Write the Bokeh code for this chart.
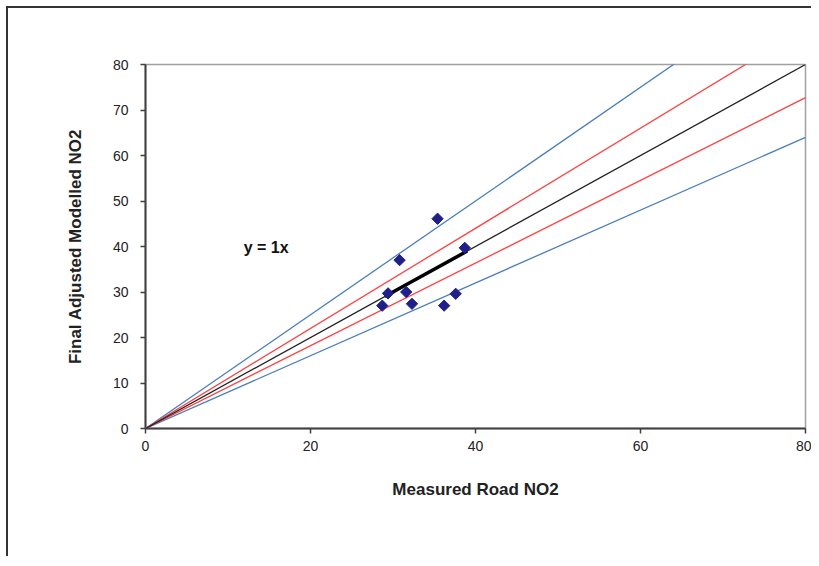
import math
from bokeh.plotting import figure
from bokeh.models import Range1d, SingleIntervalTicker, Label
from bokeh.embed import file_html
from bokeh.resources import INLINE

# Data
measured = [35.4, 30.8, 38.7, 29.4, 31.6, 28.7, 32.3, 36.2, 37.6]
modelled = [46.1, 37.0, 39.7, 29.7, 30.0, 27.0, 27.4, 27.0, 29.6]

line_x = [0, 80]
slope_1to1 = 1.0
slope_plus10 = 1.1
slope_minus10 = 1 / 1.1
slope_plus25 = 1.25
slope_minus25 = 0.8
trend_x = [29.0, 39.0]
trend_slope = 1.0

x_ticks_step = 20
y_ticks_step = 10

p = figure(width=805, height=550, output_backend="svg", toolbar_location=None,
           x_range=Range1d(0, 80), y_range=Range1d(0, 80),
           min_border_left=137, min_border_right=8, min_border_top=56,
           min_border_bottom=130)
p.styles = {"border-left": "2px solid #333333", "border-top": "2px solid #333333",
            "margin-left": "6px", "margin-top": "6px"}
p.background_fill_color = "white"
p.border_fill_color = "white"
p.outline_line_color = "#a0a0a0"
p.outline_line_width = 1.5
p.xgrid.visible = False
p.ygrid.visible = False

def seg(slope, x):
    return [v * slope for v in x]

blue = "#4a7ebb"
red = "#ff4040"
p.line(line_x, seg(slope_plus25, line_x), line_color=blue, line_width=1.3)
p.line(line_x, seg(slope_minus25, line_x), line_color=blue, line_width=1.3)
p.line(line_x, seg(slope_plus10, line_x), line_color=red, line_width=1.3)
p.line(line_x, seg(slope_minus10, line_x), line_color=red, line_width=1.3)
p.line(line_x, seg(slope_1to1, line_x), line_color="#222222", line_width=1.3)
p.line(trend_x, seg(trend_slope, trend_x), line_color="black", line_width=3.5)

p.scatter(measured, modelled, marker="square", size=8, angle=math.pi / 4,
          fill_color="#1f1f8a", line_color="#1f1f8a")

p.add_layout(Label(x=11.9, y=39.8, text="y = 1x", text_font="Liberation Sans",
                   text_font_size="16px", text_font_style="bold",
                   text_baseline="middle", text_color="#111111"))

for ax in (p.xaxis[0], p.yaxis[0]):
    ax.axis_line_color = "#404040"
    ax.axis_line_width = 2
    ax.major_tick_line_color = "#404040"
    ax.major_tick_line_width = 1.5
    ax.major_tick_out = 5
    ax.major_tick_in = 0
    ax.minor_tick_out = 0
    ax.minor_tick_in = 0
    ax.major_label_text_font = "Liberation Sans"
    ax.major_label_text_font_size = "14px"
    ax.major_label_text_color = "#222222"
    ax.axis_label_text_font = "Liberation Sans"
    ax.axis_label_text_font_size = "17px"
    ax.axis_label_text_font_style = "bold"
    ax.axis_label_text_color = "#222222"

p.xaxis.ticker = SingleIntervalTicker(interval=x_ticks_step)
p.yaxis.ticker = SingleIntervalTicker(interval=y_ticks_step)
p.xaxis.axis_label = "Measured Road NO2"
p.yaxis.axis_label = "Final Adjusted Modelled NO2"
p.xaxis.major_label_standoff = 7
p.yaxis.major_label_standoff = 12
p.xaxis.axis_label_standoff = 26
p.yaxis.axis_label_standoff = 25

open("out.html", "w").write(file_html(p, INLINE))
